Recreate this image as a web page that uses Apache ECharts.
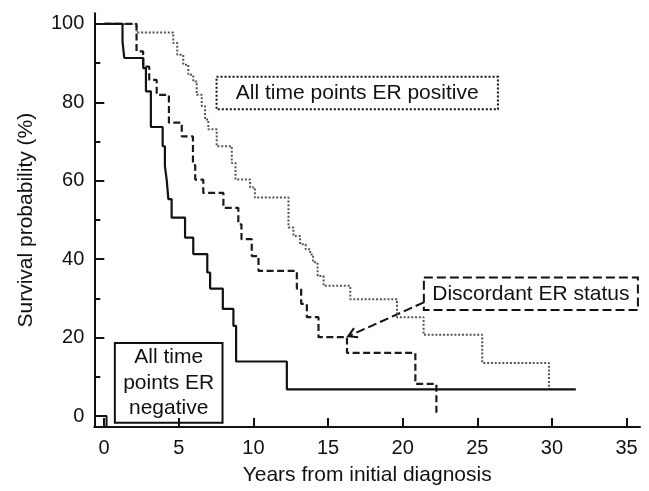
<!DOCTYPE html>
<html><head><meta charset="utf-8">
<script src="https://cdn.jsdelivr.net/npm/echarts@6/dist/echarts.min.js"></script>
<style>html,body{margin:0;padding:0;background:#fff}#c{width:649px;height:491px}</style>
</head><body><div id="c"></div>
<script>
// ---- data ----
const xTicks = [0, 5, 10, 15, 20, 25, 30, 35];
const yTicks = [0, 20, 40, 60, 80, 100];
const yMinorTicks = [10, 30, 50, 70, 90];

// All time points ER negative (solid)
const negTimes = [0, 1.23, 1.35, 2.62, 2.8, 3.13, 3.92, 4.07, 4.2, 4.3, 4.52, 5.42, 5.97, 6.91, 7.1, 7.95, 8.66, 8.84, 12.24, 31.6];
const negSurv  = [100, 95.5, 91.3, 88.7, 82.8, 73.7, 68.8, 63.7, 59.9, 55.3, 50.6, 45.5, 41.3, 36.6, 32.5, 27.3, 23.0, 13.9, 6.8, 6.8];

// Discordant ER status (dashed)
const discTimes = [0, 2.17, 2.61, 3.02, 3.52, 4.34, 5.2, 5.95, 6.1, 6.64, 7.99, 8.99, 9.2, 9.89, 10.34, 12.91, 13.2, 13.58, 14.36, 16.27, 20.85, 22.26];
const discSurv  = [100, 93.0, 89.1, 85.7, 81.9, 74.8, 71.3, 64.0, 60.3, 56.9, 53.1, 48.9, 45.1, 40.8, 37.0, 32.5, 28.6, 25.2, 20.1, 16.1, 8.2, 0];

// All time points ER positive (dotted)
const posTimes = [0, 2.17, 4.63, 4.9, 5.3, 5.64, 5.97, 6.2, 6.54, 6.76, 6.98, 7.54, 8.55, 8.8, 9.78, 10.1, 12.35, 12.68, 13.13, 13.5, 13.8, 14.0, 14.3, 14.7, 16.49, 19.62, 21.4, 25.33, 29.8];
const posSurv  = [100, 97.8, 95.1, 92.1, 89.6, 87.0, 85.3, 81.9, 79.0, 75.6, 73.1, 68.8, 64.5, 60.3, 58.3, 55.7, 48.1, 45.9, 43.8, 42.5, 41.2, 39.2, 35.7, 33.2, 29.8, 25.2, 20.7, 13.55, 6.8];

// small mark at the origin
const stubTimes = [-0.66, 0.16, 0.16];
const stubSurv  = [0, 0, -2.8];

const xName = 'Years from initial diagnosis';
const yName = 'Survival probability (%)';
const labelPos = 'All time points ER positive';
const labelDisc = 'Discordant ER status';
const labelNeg = 'All time\npoints ER\nnegative';

// ---- chart ----
const FONT = "'Liberation Sans', Arial, sans-serif";
const pairs = (t, s) => t.map((v, i) => [v, s[i]]);
const chart = echarts.init(document.getElementById('c'), null, {renderer: 'canvas'});

const xMin = -0.66, xMax = 35.9, yMin = -2.8, yMax = 102.7;

const option = {
  animation: false,
  backgroundColor: '#fff',
  grid: {left: 94.3, right: 9, top: 13.3, bottom: 62.7, containLabel: false},
  xAxis: {
    type: 'value', min: xMin, max: xMax,
    name: xName, nameLocation: 'middle', nameGap: 38,
    nameTextStyle: {fontSize: 21, color: '#111', fontFamily: FONT},
    axisLine: {show: true, onZero: false, lineStyle: {color: '#111', width: 2}},
    axisTick: {show: true, inside: true, length: 9, customValues: xTicks, lineStyle: {color: '#111', width: 2}},
    axisLabel: {customValues: xTicks, fontSize: 20, color: '#111', fontFamily: FONT, margin: 11},
    splitLine: {show: false}
  },
  yAxis: [{
    type: 'value', min: yMin, max: yMax, position: 'left',
    name: yName, nameLocation: 'middle', nameGap: 58, nameRotate: 90,
    nameTextStyle: {fontSize: 21, color: '#111', fontFamily: FONT},
    axisLine: {show: true, onZero: false, lineStyle: {color: '#111', width: 2}},
    axisTick: {show: true, inside: true, length: 10, customValues: yTicks, lineStyle: {color: '#111', width: 2}},
    axisLabel: {customValues: yTicks, fontSize: 20, color: '#111', fontFamily: FONT, margin: 10},
    splitLine: {show: false}
  }, {
    type: 'value', min: yMin, max: yMax, position: 'left', offset: 0,
    axisLine: {show: false, onZero: false},
    axisTick: {show: true, inside: true, length: 6, customValues: yMinorTicks, lineStyle: {color: '#111', width: 2}},
    axisLabel: {show: false},
    splitLine: {show: false}
  }],
  series: [
    {type: 'line', name: 'ER positive', step: 'end', data: pairs(posTimes, posSurv), showSymbol: false, silent: true,
     lineStyle: {color: '#555', width: 2, type: [2, 1.8]}},
    {type: 'line', name: 'Discordant', step: 'end', data: pairs(discTimes, discSurv), showSymbol: false, silent: true,
     lineStyle: {color: '#1a1a1a', width: 2.2, type: [7, 3.5]}},
    {type: 'line', name: 'ER negative', step: 'end', data: pairs(negTimes, negSurv), showSymbol: false, silent: true,
     lineStyle: {color: '#111', width: 2.2}},
    {type: 'line', name: 'stub', data: pairs(stubTimes, stubSurv), showSymbol: false, silent: true,
     lineStyle: {color: '#111', width: 2}}
  ]
};
chart.setOption(option);

// annotations anchored in data coordinates
const P = (x, y) => chart.convertToPixel({seriesIndex: 0}, [x, y]);
function box(x0, y0, x1, y1, dash, text, lh) {
  const a = P(x0, y0), b = P(x1, y1);
  return [{
    type: 'rect', silent: true,
    shape: {x: a[0], y: a[1], width: b[0] - a[0], height: b[1] - a[1]},
    style: {fill: 'none', stroke: '#111', lineWidth: 2, lineDash: dash}
  }, {
    type: 'text', silent: true,
    x: (a[0] + b[0]) / 2, y: (a[1] + b[1]) / 2,
    style: {text: text, fontSize: 21, fontFamily: FONT, fill: '#111', align: 'center', verticalAlign: 'middle', lineHeight: lh || 24}
  }];
}
const g = [];
g.push(...box(7.53, 86.5, 26.38, 78.2, [2, 2], labelPos));
g.push(...box(21.42, 35.34, 35.76, 27.03, [9, 4], labelDisc));
g.push(...box(0.717, 18.64, 7.93, -1.70, null, labelNeg, 25.5));
// arrow
const s = P(21.42, 28.99), t = P(16.35, 20.34);
const dx = s[0] - t[0], dy = s[1] - t[1], L = Math.hypot(dx, dy);
const ux = dx / L, uy = dy / L, al = 10, ang = Math.PI / 6;
const rot = (c, sn) => [t[0] + al * (ux * c - uy * sn), t[1] + al * (ux * sn + uy * c)];
g.push({type: 'line', silent: true, shape: {x1: s[0], y1: s[1], x2: t[0], y2: t[1]},
        style: {stroke: '#111', lineWidth: 2, lineDash: [9, 4]}});
g.push({type: 'polyline', silent: true,
        shape: {points: [rot(Math.cos(ang), Math.sin(ang)), t, rot(Math.cos(-ang), Math.sin(-ang))]},
        style: {stroke: '#111', lineWidth: 2, fill: 'none'}});
chart.setOption({graphic: {elements: g}});
</script>
</body></html>
